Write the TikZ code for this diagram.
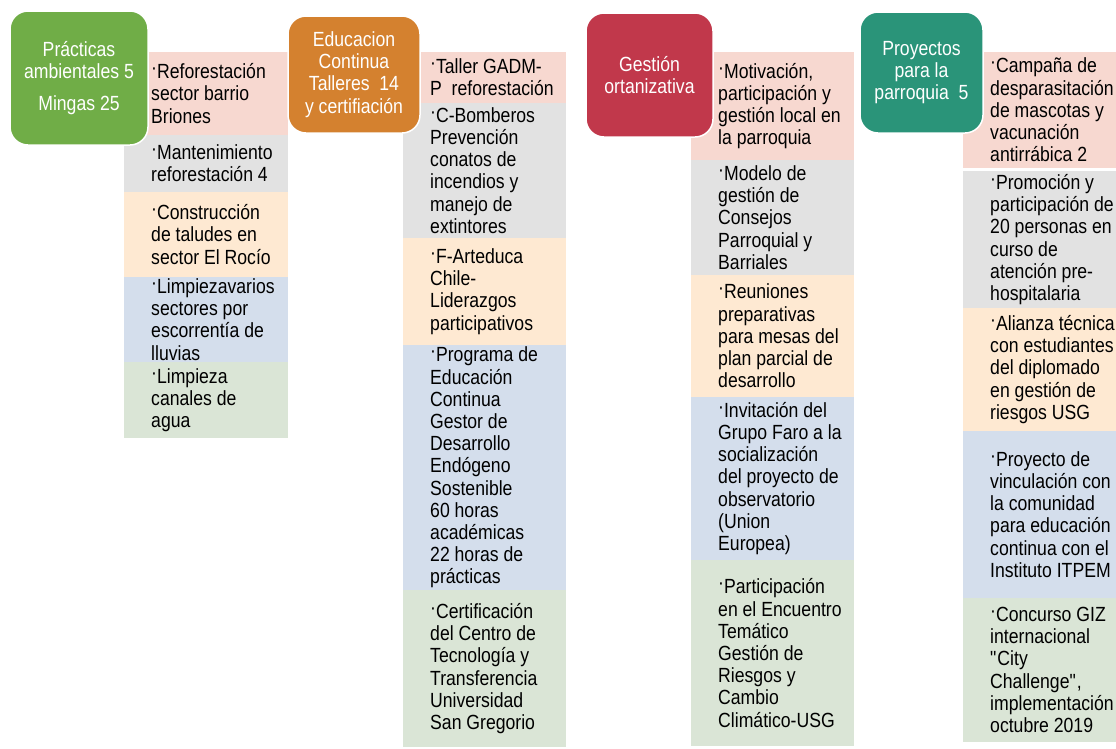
\documentclass[tikz,border=0pt]{standalone}
\usepackage{fontspec}
\setmainfont{Liberation Sans}[FakeStretch=0.86]
\definecolor{hgreen}{HTML}{70AD47}
\definecolor{horange}{HTML}{D4812F}
\definecolor{hred}{HTML}{C1384B}
\definecolor{hteal}{HTML}{2A9479}
\definecolor{bpink}{HTML}{F7D8D0}
\definecolor{bgray}{HTML}{E2E2E2}
\definecolor{bpeach}{HTML}{FEE9D2}
\definecolor{bblue}{HTML}{D4DEEC}
\definecolor{bgreen}{HTML}{DAE5D6}
\tikzset{
  itemtext/.style={anchor=west, align=left, inner sep=0pt, font=\fontsize{20.5}{22.2}\selectfont, text=black},
  hdr/.style={draw=white, line width=1.5pt, rounded corners=18pt, text=white, align=center, inner sep=0pt, font=\fontsize{20.5}{22.2}\selectfont},
}
\newcommand\dt{\raisebox{0.2em}{·}}
\newcommand\itm[7]{\fill[#6] (#2,#3) rectangle (#4,#5); \node[itemtext] (#1) at ({#2+27},{(#3+#5)/2}) {\dt#7};}
\begin{document}
\begin{tikzpicture}[x=1pt,y=-1pt]
\useasboundingbox (0,0) rectangle (1116,748);
% column 1
\itm{a1}{124}{52}{288}{135}{bpink}{Reforestación\\sector barrio\\Briones}
\itm{a2}{124}{135}{288}{192}{bgray}{Mantenimiento\\reforestación 4}
\itm{a3}{124}{192}{288}{277}{bpeach}{Construcción\\de taludes en\\sector El Rocío}
\itm{a4}{124}{277}{288}{362}{bblue}{Limpiezavarios\\sectores por\\escorrentía de\\lluvias}
\itm{a5}{124}{362}{288}{438}{bgreen}{Limpieza\\canales de\\agua}
% column 2
\itm{b1}{403}{52}{566}{103}{bpink}{Taller GADM-\\P~ reforestación}
\itm{b2}{403}{103}{566}{238}{bgray}{C-Bomberos\\Prevención\\conatos de\\incendios y\\manejo de\\extintores}
\itm{b3}{403}{238}{566}{345}{bpeach}{F-Arteduca\\Chile-\\Liderazgos\\participativos}
\itm{b4}{403}{345}{566}{590}{bblue}{Programa de\\Educación\\Continua\\Gestor de\\Desarrollo\\Endógeno\\Sostenible\\60 horas\\académicas\\22 horas de\\prácticas}
\itm{b5}{403}{590}{566}{747}{bgreen}{Certificación\\del Centro de\\Tecnología y\\Transferencia\\Universidad\\San Gregorio}
% column 3
\itm{c1}{691}{52}{854}{160}{bpink}{Motivación,\\participación y\\gestión local en\\la parroquia}
\itm{c2}{691}{160}{854}{275}{bgray}{Modelo de\\gestión de\\Consejos\\Parroquial y\\Barriales}
\itm{c3}{691}{275}{854}{397}{bpeach}{Reuniones\\preparativas\\para mesas del\\plan parcial de\\desarrollo}
\itm{c4}{691}{397}{854}{560}{bblue}{Invitación del\\Grupo Faro a la\\socialización\\del proyecto de\\observatorio\\(Union\\Europea)}
\itm{c5}{691}{560}{854}{746}{bgreen}{Participación\\en el Encuentro\\Temático\\Gestión de\\Riesgos y\\Cambio\\Climático-USG}
% column 4
\itm{d1}{963}{52}{1116}{168}{bpink}{Campaña de\\desparasitación\\de mascotas y\\vacunación\\antirrábica 2}
\itm{d2}{963}{171}{1116}{308}{bgray}{Promoción y\\participación de\\20 personas en\\curso de\\atención pre-\\hospitalaria}
\itm{d3}{963}{308}{1116}{431}{bpeach}{Alianza técnica\\con estudiantes\\del diplomado\\en gestión de\\riesgos USG}
\itm{d4}{963}{431}{1116}{598}{bblue}{Proyecto de\\vinculación con\\la comunidad\\para educación\\continua con el\\Instituto ITPEM}
\itm{d5}{963}{598}{1116}{742}{bgreen}{Concurso GIZ\\internacional\\\textquotedbl City\\Challenge\textquotedbl,\\implementación\\octubre 2019}
% headers
\node[hdr, fill=hgreen, minimum width=138pt, minimum height=134pt] (h1) at (79,78) {Prácticas\\ambientales 5\\[10pt]Mingas 25};
\node[hdr, fill=horange, minimum width=132pt, minimum height=117pt] (h2) at (354,74.5) {Educacion\\Continua\\Talleres~ 14\\y certifiación};
\node[hdr, fill=hred, minimum width=127pt, minimum height=124pt] (h3) at (649.5,75) {Gestión\\ortanizativa};
\node[hdr, fill=hteal, minimum width=123pt, minimum height=121pt] (h4) at (921.5,72.5) {Proyectos\\para la\\parroquia~ 5};
\end{tikzpicture}
\end{document}
